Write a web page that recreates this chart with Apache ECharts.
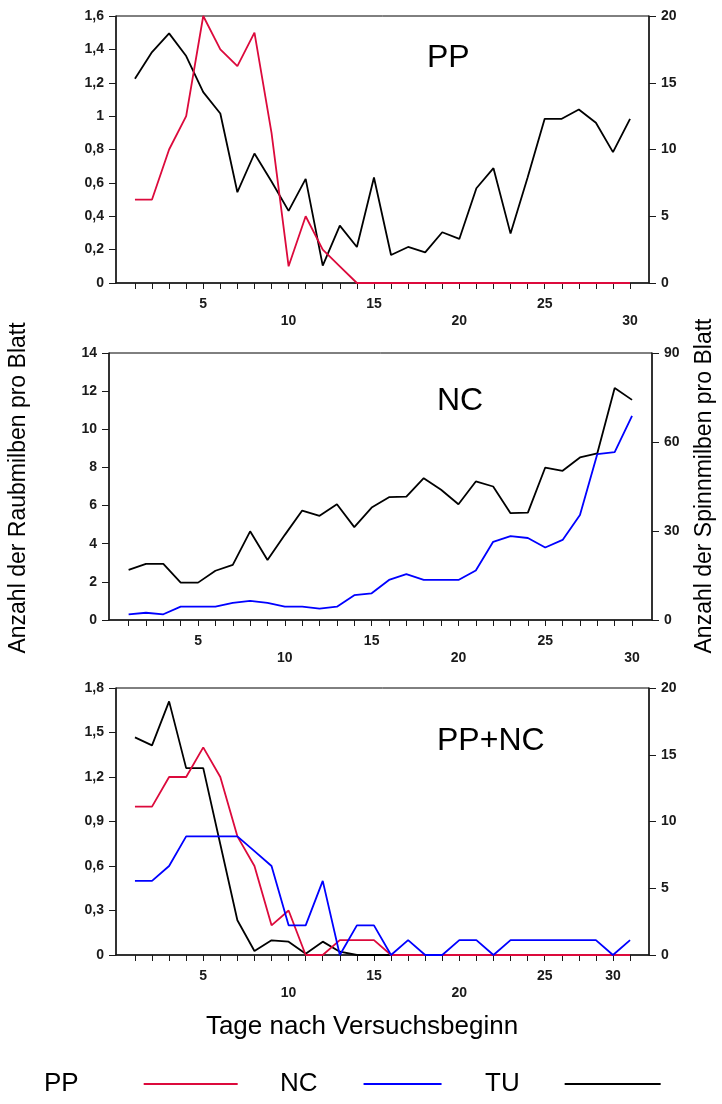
<!DOCTYPE html>
<html>
<head>
<meta charset="utf-8">
<script src="https://cdn.jsdelivr.net/npm/echarts@6/dist/echarts.min.js"></script>
<style>
  html, body { margin: 0; padding: 0; background: #fff; }
  #chart { width: 722px; height: 1104px; }
</style>
</head>
<body>
<div id="chart"></div>
<script>
// days after start of the trial
const days = [1, 2, 3, 4, 5, 6, 7, 8, 9, 10, 11, 12, 13, 14, 15,
              16, 17, 18, 19, 20, 21, 22, 23, 24, 25, 26, 27, 28, 29, 30];

// panel PP
const ppPredPP = [0.5, 0.5, 0.8, 1.0, 1.6, 1.4, 1.3, 1.5, 0.9, 0.1, 0.4, 0.2, 0.1, 0, 0,
                  0, 0, 0, 0, 0, 0, 0, 0, 0, 0, 0, 0, 0, 0, 0];
const ppTU = [15.3, 17.3, 18.7, 17.0, 14.3, 12.7, 6.8, 9.7, 7.6, 5.4, 7.8, 1.3, 4.3, 2.7, 7.9,
              2.1, 2.7, 2.3, 3.8, 3.3, 7.1, 8.6, 3.7, 7.9, 12.3, 12.3, 13.0, 12.0, 9.8, 12.3];

// panel NC
const ncPredNC = [0.3, 0.38, 0.3, 0.7, 0.7, 0.7, 0.9, 1.0, 0.9, 0.7, 0.7, 0.6, 0.7, 1.3, 1.4,
                  2.1, 2.4, 2.1, 2.1, 2.1, 2.6, 4.1, 4.4, 4.3, 3.8, 4.2, 5.5, 8.7, 8.8, 10.7];
const ncTU = [16.9, 18.9, 18.9, 12.6, 12.6, 16.6, 18.6, 29.9, 20.2, 28.7, 36.9, 35.1, 39.0, 31.3, 37.9,
              41.4, 41.6, 47.8, 43.9, 39.0, 46.7, 45.0, 36.0, 36.2, 51.4, 50.3, 54.8, 56.2, 78.2, 74.2];

// panel PP+NC
const mixPredPP = [1.0, 1.0, 1.2, 1.2, 1.4, 1.2, 0.8, 0.6, 0.2, 0.3, 0, 0, 0.1, 0.1, 0.1,
                   0, 0, 0, 0, 0, 0, 0, 0, 0, 0, 0, 0, 0, 0, 0];
const mixPredNC = [0.5, 0.5, 0.6, 0.8, 0.8, 0.8, 0.8, 0.7, 0.6, 0.2, 0.2, 0.5, 0, 0.2, 0.2,
                   0, 0.1, 0, 0, 0.1, 0.1, 0, 0.1, 0.1, 0.1, 0.1, 0.1, 0.1, 0, 0.1];
const mixTU = [16.3, 15.7, 19.0, 14.0, 14.0, 8.3, 2.6, 0.3, 1.1, 1.0, 0.1, 1.0, 0.25, 0, 0,
               0, 0, 0, 0, 0, 0, 0, 0, 0, 0, 0, 0, 0, 0, 0];

// x tick labels (position, text, row: u = upper, d = lower)
const xLabelPos = [5, 10, 15, 20, 25, 30];
const xLabelText = ['5', '10', '15', '20', '25', '30'];
const xLabelRow = ['u', 'd', 'u', 'd', 'u', 'd'];
const xLabelPos3 = [5, 10, 15, 20, 25, 29];
const xLabelText3 = ['5', '10', '15', '20', '25', '30'];
const xLabelRow3 = ['u', 'd', 'u', 'd', 'u', 'u'];

const panelTitles = ['PP', 'NC', 'PP+NC'];
const seriesNames = ['PP', 'NC', 'TU'];

const RED = '#dc0a3c', BLUE = '#0000ff', BLACK = '#000000';
const FONT = '"Liberation Sans", Arial, Helvetica, sans-serif';
const AXIS = '#1a1a1a';

const pairs = vals => days.map((d, i) => [d, vals[i]]);
const comma = v => String(+(+v).toFixed(1)).replace('.', ',');

const labelStyle = { fontFamily: FONT, fontSize: 14, fontWeight: 'bold', color: '#1a1a1a' };

function xAxisFor(gridIndex, min, max, pos, text, row) {
  return {
    type: 'value', gridIndex, min, max,
    axisLine: { show: true, onZero: false, lineStyle: { color: AXIS, width: 1.5 } },
    axisTick: { show: true, customValues: days, length: 6, lineStyle: { color: AXIS, width: 1 } },
    axisLabel: {
      customValues: pos, margin: 14,
      formatter: v => { const i = pos.indexOf(v); return i < 0 ? '' : '{' + row[i] + '|' + text[i] + '}'; },
      rich: { u: labelStyle, d: Object.assign({ padding: [17, 0, 0, 0] }, labelStyle) }
    },
    splitLine: { show: false }
  };
}

function yAxisFor(gridIndex, position, max, interval, fmt) {
  return {
    type: 'value', gridIndex, position, min: 0, max, interval,
    axisLine: { show: true, onZero: false, lineStyle: { color: AXIS, width: 1.5 } },
    axisTick: { show: true, length: 7, lineStyle: { color: AXIS, width: 1 } },
    axisLabel: Object.assign({ margin: 12, formatter: fmt }, labelStyle),
    splitLine: { show: false }
  };
}

function line(name, color, vals, axisIdx) {
  return {
    type: 'line', name, data: pairs(vals), xAxisIndex: axisIdx[0], yAxisIndex: axisIdx[1],
    symbol: 'none', lineStyle: { color, width: 1.8 }, itemStyle: { color },
    animation: false, silent: true
  };
}

const gridBox = { show: true, borderColor: BLACK, borderWidth: 1, backgroundColor: 'transparent' };

const option = {
  backgroundColor: '#fff',
  animation: false,
  grid: [
    Object.assign({ left: 116, right: 73, top: 16, height: 267 }, gridBox),
    Object.assign({ left: 109, right: 70, top: 353, height: 267 }, gridBox),
    Object.assign({ left: 116, right: 73, top: 688, height: 267 }, gridBox)
  ],
  xAxis: [
    xAxisFor(0, -0.11, 31.11, xLabelPos, xLabelText, xLabelRow),
    xAxisFor(1, -0.13, 31.15, xLabelPos, xLabelText, xLabelRow),
    xAxisFor(2, -0.11, 31.11, xLabelPos3, xLabelText3, xLabelRow3)
  ],
  yAxis: [
    yAxisFor(0, 'left', 1.6, 0.2, comma),
    yAxisFor(0, 'right', 20, 5, v => String(v)),
    yAxisFor(1, 'left', 14, 2, v => String(v)),
    yAxisFor(1, 'right', 90, 30, v => String(v)),
    yAxisFor(2, 'left', 1.8, 0.3, comma),
    yAxisFor(2, 'right', 20, 5, v => String(v))
  ],
  legend: [
    { data: [seriesNames[0]], left: 39, top: 1066 },
    { data: [seriesNames[1]], left: 275, top: 1066 },
    { data: [seriesNames[2]], left: 480, top: 1066 }
  ].map((l, i) => Object.assign({
    align: 'right', icon: 'rect', itemWidth: [94, 78, 96][i], itemHeight: 2, selectedMode: false,
    textStyle: { fontFamily: FONT, fontSize: 26, color: BLACK, padding: [0, [60, 41, 40][i], 0, 0] }
  }, l)),
  graphic: [
    { type: 'text', x: 427, y: 58, style: { text: panelTitles[0], font: '32px ' + FONT, fill: BLACK, textVerticalAlign: 'middle', verticalAlign: 'middle' } },
    { type: 'text', x: 437, y: 401, style: { text: panelTitles[1], font: '32px ' + FONT, fill: BLACK, textVerticalAlign: 'middle', verticalAlign: 'middle' } },
    { type: 'text', x: 437, y: 741, style: { text: panelTitles[2], font: '32px ' + FONT, fill: BLACK, textVerticalAlign: 'middle', verticalAlign: 'middle' } },
    { type: 'text', x: 362, y: 1027, style: { text: 'Tage nach Versuchsbeginn', font: '26px ' + FONT, fill: BLACK,
      textAlign: 'center', align: 'center', textVerticalAlign: 'middle', verticalAlign: 'middle' } },
    { type: 'text', x: 19, y: 488, rotation: Math.PI / 2, style: { text: 'Anzahl der Raubmilben pro Blatt', font: '23px ' + FONT, fill: BLACK,
      textAlign: 'center', align: 'center', textVerticalAlign: 'middle', verticalAlign: 'middle' } },
    { type: 'text', x: 705, y: 486, rotation: Math.PI / 2, style: { text: 'Anzahl der Spinnmilben pro Blatt', font: '23px ' + FONT, fill: BLACK,
      textAlign: 'center', align: 'center', textVerticalAlign: 'middle', verticalAlign: 'middle' } }
  ],
  series: [
    line(seriesNames[2], BLACK, ppTU, [0, 1]),
    line(seriesNames[0], RED, ppPredPP, [0, 0]),
    line(seriesNames[2], BLACK, ncTU, [1, 3]),
    line(seriesNames[1], BLUE, ncPredNC, [1, 2]),
    line(seriesNames[2], BLACK, mixTU, [2, 5]),
    line(seriesNames[0], RED, mixPredPP, [2, 4]),
    line(seriesNames[1], BLUE, mixPredNC, [2, 4])
  ]
};

const chart = echarts.init(document.getElementById('chart'), null, { renderer: 'canvas' });
chart.setOption(option);
</script>
</body>
</html>
